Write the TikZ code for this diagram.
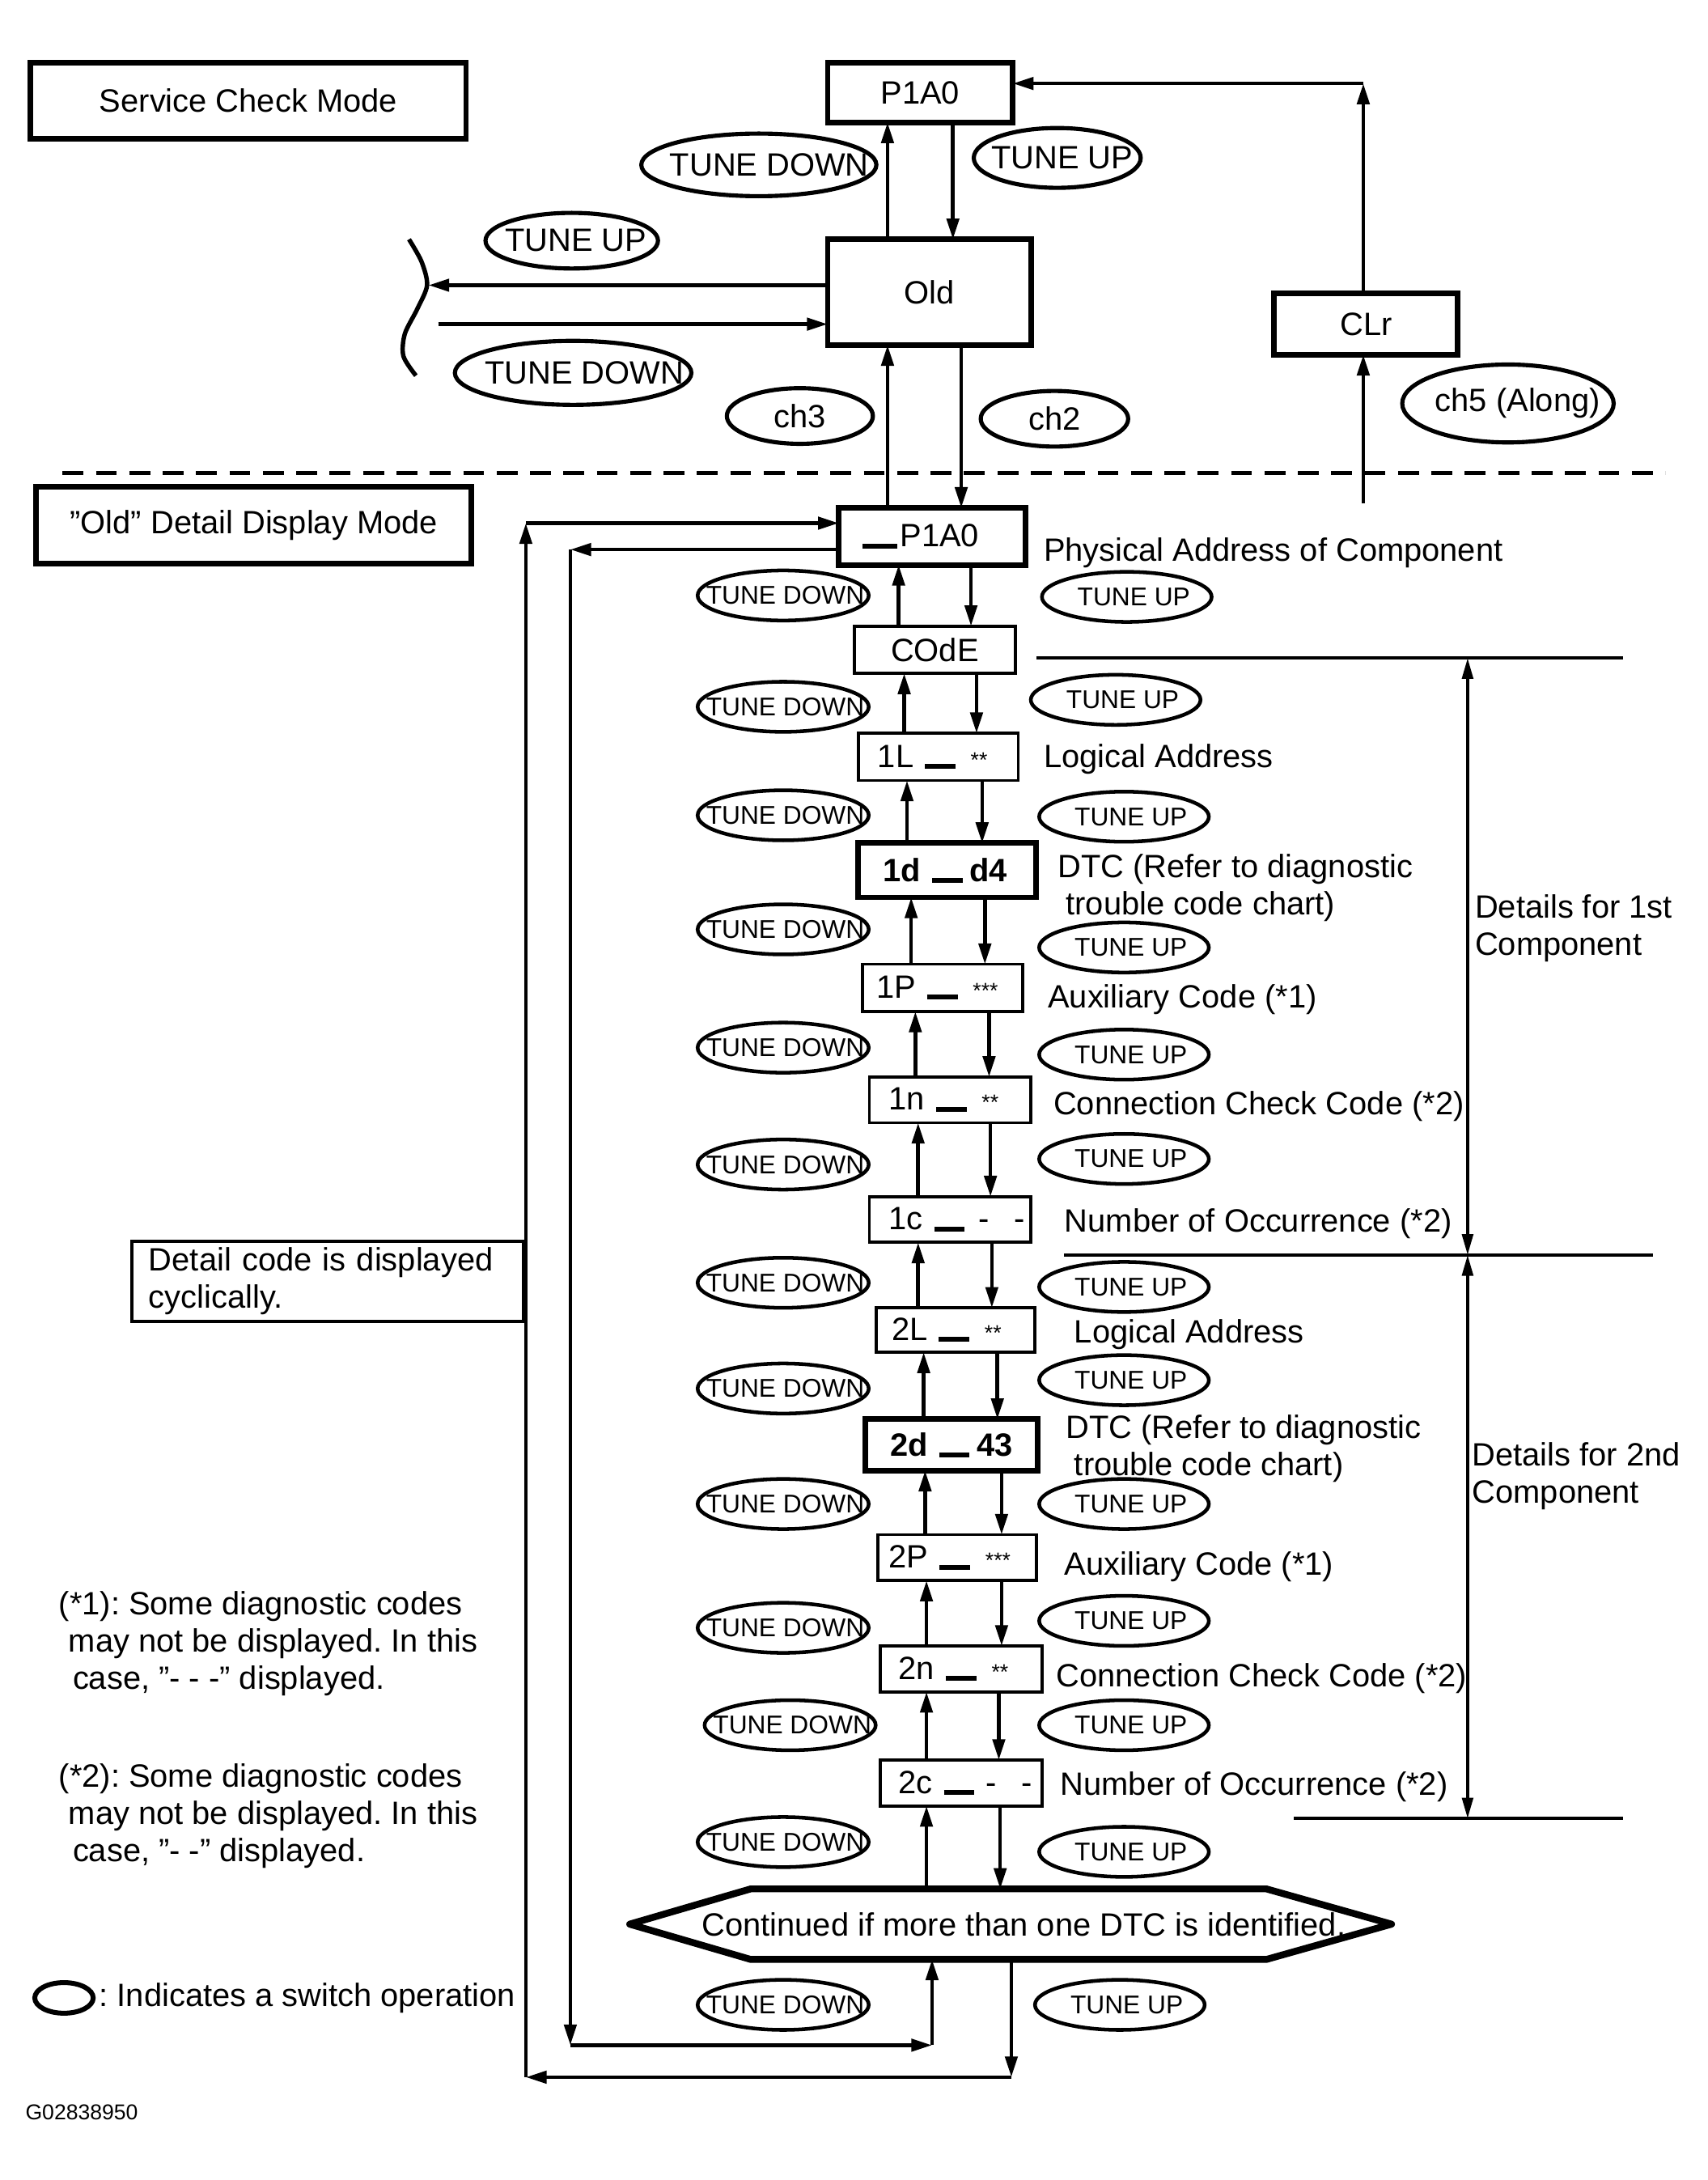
\documentclass[tikz,border=0pt]{standalone}
\usepackage{fontspec}
\setmainfont{Liberation Sans}
\usetikzlibrary{arrows.meta,shapes.geometric,calc}
\newlength\pxu
\setlength\pxu{0.02cm}
\newcommand\mfs{\fontsize{13.2pt}{15.2pt}\selectfont}
\newcommand\sfs{\fontsize{10.5pt}{12pt}\selectfont}
\newcommand\tfs{\fontsize{8.8pt}{10pt}\selectfont}
\newcommand\codebar[1][11]{\hspace{8\pxu}\rule[-1\pxu]{22\pxu}{3.5\pxu}\hspace{#1\pxu}}
\newcommand\stars[1]{{\tfs #1}}
\newcommand\shifted[2]{\makebox[0pt]{\hspace{#1\pxu}#2}}
\frenchspacing
\begin{document}
\begin{tikzpicture}[x=0.02cm,y=-0.02cm,
  thickbox/.style={draw, line width=2.3pt, inner sep=0pt, outer sep=0pt, font=\mfs},
  thinbox/.style={draw, line width=1.25pt, inner sep=0pt, outer sep=0pt, font=\mfs},
  bigoval/.style={draw, ellipse, line width=1.7pt, inner sep=0pt, font=\mfs},
  smalloval/.style={draw, ellipse, line width=1.5pt, inner sep=0pt, font=\sfs, minimum width=123\pxu, minimum height=36\pxu},
  arr/.style={line width=1.5pt, -{Triangle[length=8.5pt,width=5pt]}},
  lbl/.style={anchor=west, inner sep=0pt, font=\mfs, text height=20\pxu, text depth=3.2\pxu},
  mlbl/.style={anchor=north west, inner sep=0pt, font=\mfs, align=left},
  dimline/.style={line width=1.2pt},
  dimarr/.style={line width=1.2pt, {Triangle[length=8.5pt,width=4.5pt]}-{Triangle[length=8.5pt,width=4.5pt]}}
]
\useasboundingbox (0,0) rectangle (1227.8,1566.9);

% ---------------- Service check mode ----------------
\node[thickbox, minimum width=313\pxu, minimum height=55\pxu] (scm) at (178.5,72.5) {Service Check Mode};
\node[thickbox, minimum width=133\pxu, minimum height=43\pxu] (p1a0) at (661.5,66.5) {P1A0};
\node[thickbox, minimum width=146\pxu, minimum height=76\pxu] (old) at (668,210) {Old};
\node[thickbox, minimum width=132\pxu, minimum height=44\pxu] (clr) at (982,233) {CLr};

\node[bigoval, minimum width=169\pxu, minimum height=45\pxu] (td1) at (545.5,118.5) {\shifted{15}{TUNE DOWN}};
\node[bigoval, minimum width=120\pxu, minimum height=43\pxu] (tu1) at (760,113.5) {\shifted{7}{TUNE UP}};
\node[bigoval, minimum width=124\pxu, minimum height=40\pxu] (tu2) at (411,173) {\shifted{6}{TUNE UP}};
\node[bigoval, minimum width=170\pxu, minimum height=46\pxu] (td2) at (412,268) {\shifted{16}{TUNE DOWN}};
\node[bigoval, minimum width=105\pxu, minimum height=40\pxu] (ch3) at (575,299) {\shifted{0}{ch3}};
\node[bigoval, minimum width=106\pxu, minimum height=40\pxu] (ch2) at (758,301) {\shifted{0}{ch2}};
\node[bigoval, minimum width=152\pxu, minimum height=56\pxu] (ch5) at (1084,290) {\shifted{14}{ch5 (Along)}};

\draw[arr] (638,0 |- old.north) -- (638,0 |- p1a0.south);
\draw[arr] (685,0 |- p1a0.south) -- (685,0 |- old.north);

\coordinate (brL) at (308,205);
\coordinate (brR) at (315,233);
\draw[arr] (old.west |- brL) -- (brL);
\draw[arr] (brR) -- (brR -| old.west);
\draw[line width=1.8pt] plot[smooth] coordinates {(294,172) (303,188) (307,205) (300,222) (291,240) (290,256) (299,270)};

\coordinate (clrbot) at (980,362);
\coordinate (clrtop) at (980,60);
\draw[arr] (clrbot) -- (clrbot |- clr.south);
\draw[arr] (clrtop |- clr.north) -- (clrtop);
\draw[arr] (clrtop) -- (clrtop -| p1a0.east);

\draw[line width=1.4pt, dash pattern=on 15\pxu off 9\pxu] (45,340) -- (1197,340);

% ---------------- Old detail display mode ----------------
\node[thickbox, minimum width=313\pxu, minimum height=55\pxu] (odd) at (182.5,377.5) {”Old” Detail Display Mode};

\node[thickbox, minimum height=41\pxu, text width=100\pxu, inner xsep=17\pxu, align=left] (pA) at (670,385.5) {\mbox{\rule[-1\pxu]{25\pxu}{3.5\pxu}\hspace{2\pxu}P1A0}};
\draw[arr] (638,0 |- pA.north) -- (638,0 |- old.south);
\draw[arr] (691,0 |- old.south) -- (691,0 |- pA.north);

\node[thinbox, minimum width=116\pxu, minimum height=34\pxu] (code) at (672,467) {COdE};
\node[thinbox, minimum height=34\pxu, text width=87\pxu, inner xsep=14\pxu, align=left] (b1L) at (674.5,544) {\mbox{1L\codebar\stars{**}}};
\node[thickbox, minimum height=39\pxu, text width=92\pxu, inner xsep=18\pxu, align=left] (b1d) at (681,625.5) {\mbox{\textbf{1d}\codebar[5]\textbf{d4}}};
\node[thinbox, minimum height=34\pxu, text width=95\pxu, inner xsep=10\pxu, align=left] (b1P) at (677.5,710) {\mbox{1P\codebar\stars{***}}};
\node[thinbox, minimum height=33\pxu, text width=88\pxu, inner xsep=14\pxu, align=left] (b1n) at (683,790.5) {\mbox{1n\codebar\stars{**}}};
\node[thinbox, minimum height=33\pxu, text width=88\pxu, inner xsep=14\pxu, align=left] (b1c) at (683,876.5) {\mbox{1c\codebar[10]-\hspace{18\pxu}-}};
\node[thinbox, minimum height=32\pxu, text width=92\pxu, inner xsep=11\pxu, align=left] (b2L) at (687,956) {\mbox{2L\codebar\stars{**}}};
\node[thickbox, minimum height=37\pxu, text width=88\pxu, inner xsep=18\pxu, align=left] (b2d) at (684,1038.5) {\mbox{\textbf{2d}\codebar[5]\textbf{43}}};
\node[thinbox, minimum height=33\pxu, text width=98\pxu, inner xsep=8\pxu, align=left] (b2P) at (688,1119.5) {\mbox{2P\codebar\stars{***}}};
\node[thinbox, minimum height=33\pxu, text width=90\pxu, inner xsep=13\pxu, align=left] (b2n) at (691,1199.5) {\mbox{2n\codebar\stars{**}}};
\node[thinbox, minimum height=33\pxu, text width=90\pxu, inner xsep=13\pxu, align=left] (b2c) at (691,1281.5) {\mbox{2c\codebar[8]-\hspace{18\pxu}-}};

\node[minimum width=370\pxu, minimum height=50\pxu, inner sep=0pt, font=\mfs] (cont) at (725,1383) {\makebox[0pt]{\hspace{22\pxu}Continued if more than one DTC is identified.}};
\draw[line width=2.8pt, line join=round] (cont.north west) -- (cont.north east) -- ($(cont.east)+(90,0)$) -- (cont.south east) -- (cont.south west) -- ($(cont.west)+(-87,0)$) -- cycle;

% chain arrows
\draw[arr] (646,0 |- code.north) -- (646,0 |- pA.south);
\draw[arr] (698,0 |- pA.south) -- (698,0 |- code.north);
\draw[arr] (650,0 |- b1L.north) -- (650,0 |- code.south);
\draw[arr] (702,0 |- code.south) -- (702,0 |- b1L.north);
\draw[arr] (652,0 |- b1d.north) -- (652,0 |- b1L.south);
\draw[arr] (706,0 |- b1L.south) -- (706,0 |- b1d.north);
\draw[arr] (655,0 |- b1P.north) -- (655,0 |- b1d.south);
\draw[arr] (708,0 |- b1d.south) -- (708,0 |- b1P.north);
\draw[arr] (658,0 |- b1n.north) -- (658,0 |- b1P.south);
\draw[arr] (711,0 |- b1P.south) -- (711,0 |- b1n.north);
\draw[arr] (660,0 |- b1c.north) -- (660,0 |- b1n.south);
\draw[arr] (712,0 |- b1n.south) -- (712,0 |- b1c.north);
\draw[arr] (660,0 |- b2L.north) -- (660,0 |- b1c.south);
\draw[arr] (713,0 |- b1c.south) -- (713,0 |- b2L.north);
\draw[arr] (664,0 |- b2d.north) -- (664,0 |- b2L.south);
\draw[arr] (717,0 |- b2L.south) -- (717,0 |- b2d.north);
\draw[arr] (665,0 |- b2P.north) -- (665,0 |- b2d.south);
\draw[arr] (720,0 |- b2d.south) -- (720,0 |- b2P.north);
\draw[arr] (666,0 |- b2n.north) -- (666,0 |- b2P.south);
\draw[arr] (720,0 |- b2P.south) -- (720,0 |- b2n.north);
\draw[arr] (666,0 |- b2c.north) -- (666,0 |- b2n.south);
\draw[arr] (718,0 |- b2n.south) -- (718,0 |- b2c.north);
\draw[arr] (666,0 |- cont.north) -- (666,0 |- b2c.south);
\draw[arr] (719,0 |- b2c.south) -- (719,0 |- cont.north);

% loops
\coordinate (o1) at (378,376);
\coordinate (o2) at (378,1493);
\coordinate (o3) at (727,1493);
\coordinate (i1) at (410,395);
\coordinate (i2) at (410,1470);
\coordinate (i3) at (670,1470);
\draw[arr] (o3 |- cont.south) -- (o3);
\draw[arr] (o3) -- (o2);
\draw[arr] (o2) -- (o1);
\draw[arr] (o1) -- (o1 -| pA.west);
\draw[arr] (i1 -| pA.west) -- (i1);
\draw[arr] (i1) -- (i2);
\draw[arr] (i2) -- (i3);
\draw[arr] (i3) -- (i3 |- cont.south);

% switch ovals
\foreach \n/\y/\xx in {1/428/563, 2/508/563, 3/586/563, 4/668/563, 5/753/563, 6/837/563, 7/922/563, 8/998/563, 9/1081/563, 10/1170/563, 11/1240/568, 12/1324/563, 13/1441/563}
  \node[smalloval] (sd\n) at (\xx,\y) {\shifted{3}{TUNE DOWN}};
\foreach \n/\y/\xx in {1/429/810, 2/503/802, 3/587/808, 4/681/808, 5/758/808, 6/833/808, 7/925/808, 8/992/808, 9/1081/808, 10/1165/808, 11/1240/808, 12/1331/808, 13/1441/805}
  \node[smalloval, minimum width=122\pxu] (su\n) at (\xx,\y) {\shifted{10}{TUNE UP}};

% labels
\node[lbl] (lPA) at (750,395) {Physical Address of Component};
\node[lbl] (l1L) at (750,543) {Logical Address};
\node[mlbl] (l1d) at (760,613.6) {DTC (Refer to diagnostic\\\hspace*{6\pxu}trouble code chart)};
\node[lbl] (l1P) at (753,716) {Auxiliary Code (*1)};
\node[lbl] (l1n) at (757,793) {Connection Check Code (*2)};
\node[lbl] (l1c) at (765,877) {Number of Occurrence (*2)};
\node[lbl] (l2L) at (772,957) {Logical Address};
\node[mlbl] (l2d) at (766,1016.6) {DTC (Refer to diagnostic\\\hspace*{6\pxu}trouble code chart)};
\node[lbl] (l2P) at (765,1124) {Auxiliary Code (*1)};
\node[lbl] (l2n) at (759,1204) {Connection Check Code (*2)};
\node[lbl] (l2c) at (762,1282) {Number of Occurrence (*2)};

% dimension lines
\coordinate (d1a) at (745,473);  \coordinate (d1b) at (1167,473);
\coordinate (d2a) at (765,902);  \coordinate (d2b) at (1188,902);
\coordinate (d3a) at (930,1307); \coordinate (d3b) at (1167,1307);
\draw[dimline] (d1a) -- (d1b);
\draw[dimline] (d2a) -- (d2b);
\draw[dimline] (d3a) -- (d3b);
\draw[dimarr] (1055,0 |- d1a) -- (1055,0 |- d2a);
\draw[dimarr] (1055,0 |- d2a) -- (1055,0 |- d3a);
\node[mlbl] (det1) at (1060,642.6) {Details for 1st\\Component};
\node[mlbl] (det2) at (1058,1036.6) {Details for 2nd\\Component};

% left notes
\node[thinbox, minimum height=58\pxu, text width=257\pxu, inner xsep=12\pxu, align=left] (cyc) at (235.5,921) {Detail code is displayed\\cyclically.};
\node[mlbl] (n1) at (42,1143.6) {(*1): Some diagnostic codes\\\hspace*{7\pxu}may not be displayed. In this\\\hspace*{10\pxu}case, ”- - -” displayed.};
\node[mlbl] (n2) at (42,1267.6) {(*2): Some diagnostic codes\\\hspace*{7\pxu}may not be displayed. In this\\\hspace*{10\pxu}case, ”- -” displayed.};
\node[draw, ellipse, line width=2pt, minimum width=42\pxu, minimum height=22\pxu, inner sep=0pt] (leg) at (46,1436) {};
\node[lbl] (legt) at (71,1434) {: Indicates a switch operation};
\node[anchor=west, inner sep=0pt, font=\tfs] (gid) at (18,1518) {G02838950};
\end{tikzpicture}
\end{document}
